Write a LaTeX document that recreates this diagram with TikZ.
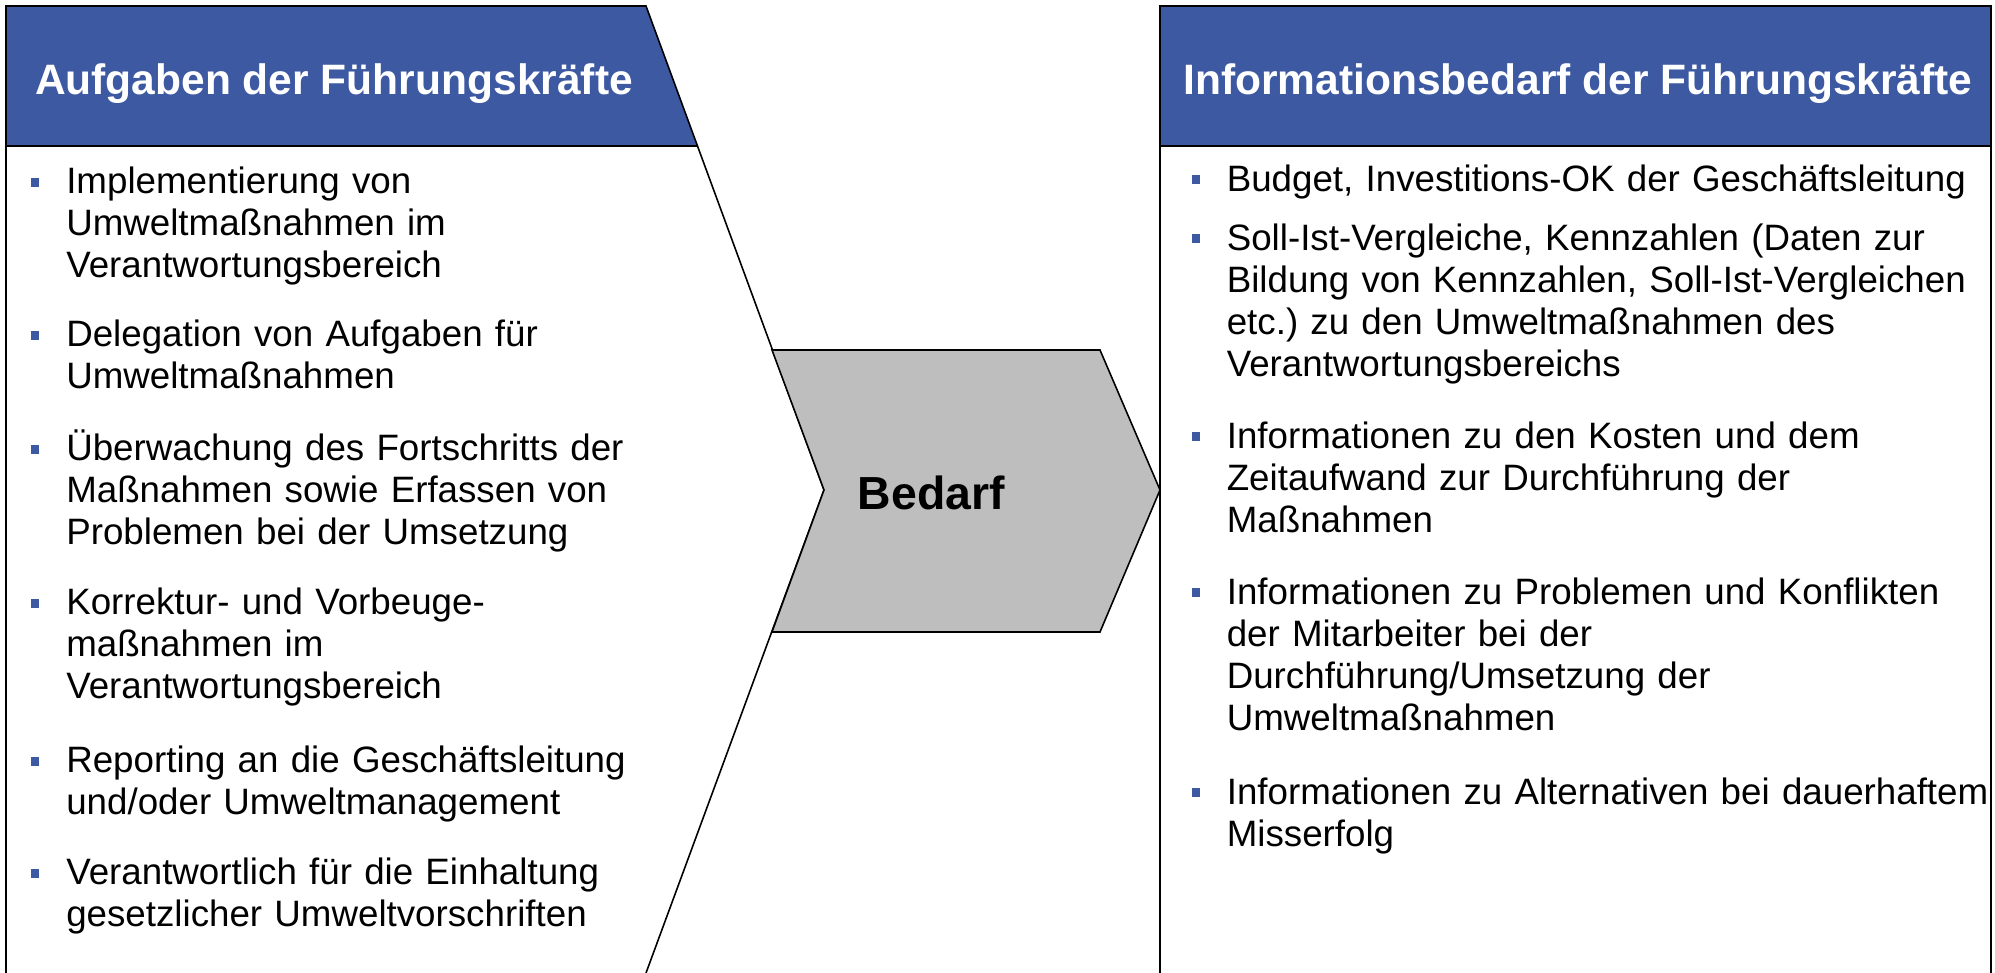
\documentclass[tikz,border=0pt]{standalone}
\usepackage{fontspec}
\setmainfont{Liberation Sans}
\frenchspacing

\definecolor{kopfblau}{RGB}{61,89,162}
\definecolor{pfeilgrau}{RGB}{190,190,190}

\tikzset{
  kopf/.style={font=\fontsize{12.1}{14.5}\selectfont\bfseries, text=white, anchor=base, inner sep=0pt},
  punkt/.style={fill=kopfblau, minimum width=0.8mm, minimum height=0.9mm, inner sep=0pt},
  eintrag/.style={font=\fontsize{10.45}{11.95}\selectfont, text width=85mm, align=left, anchor=base west, inner sep=0pt},
}

\begin{document}
\begin{tikzpicture}[x=0.1mm,y=-0.1mm,line width=0.45pt]
\useasboundingbox (0,0) rectangle (1995,973);

% Kopfleisten
\fill[kopfblau] (6,6) -- (646,6) -- (697,146) -- (6,146) -- cycle;
\fill[kopfblau] (1160,6) rectangle (1991,146);

% Umrisse
\draw (6,973) -- (6,6) -- (646,6) -- (824,490) -- (646,973);
\draw (1160,973) -- (1160,6) -- (1991,6) -- (1991,973);
\draw[line width=0.7pt]
(6,146) -- (697,146)
(1160,146) -- (1991,146);

% Pfeil
\draw[fill=pfeilgrau]
(772,350) -- (1100,350) -- (1160,490) -- (1100,632) -- (772,632) -- (824,490) -- cycle;
\node[font=\fontsize{13.2}{15}\selectfont\bfseries, anchor=base west, inner sep=0pt] (bedarf) at (857,510) {Bedarf};

\node[kopf] (kopfl) at (334,95) {Aufgaben der Führungskräfte};
\node[kopf] (kopfr) at (1578,95) {Informationsbedarf der Führungskräfte};

% linke Spalte
\node[punkt] (pl1) at (34.5,182.5) {};
\node[eintrag] (l1) at (65.5,194) {Implementierung von\\Umweltmaßnahmen im\\Verantwortungsbereich};
\node[punkt] (pl2) at (34.5,335.5) {};
\node[eintrag] (l2) at (65.5,347) {Delegation von Aufgaben für\\Umweltmaßnahmen};
\node[punkt] (pl3) at (34.5,449.5) {};
\node[eintrag] (l3) at (65.5,461) {Überwachung des Fortschritts der\\Maßnahmen sowie Erfassen von\\Problemen bei der Umsetzung};
\node[punkt] (pl4) at (34.5,603.5) {};
\node[eintrag] (l4) at (65.5,615) {Korrektur- und Vorbeuge-\\maßnahmen im\\Verantwortungsbereich};
\node[punkt] (pl5) at (34.5,761.5) {};
\node[eintrag] (l5) at (65.5,773) {Reporting an die Geschäftsleitung\\und/oder Umweltmanagement};
\node[punkt] (pl6) at (34.5,873.5) {};
\node[eintrag] (l6) at (65.5,885) {Verantwortlich für die Einhaltung\\gesetzlicher Umweltvorschriften};

% rechte Spalte
\node[punkt] (pr1) at (1196,179.5) {};
\node[eintrag] (r1) at (1226,191.5) {Budget, Investitions-OK der Geschäftsleitung};
\node[punkt] (pr2) at (1196,239) {};
\node[eintrag] (r2) at (1226,251) {Soll-Ist-Vergleiche, Kennzahlen (Daten zur\\Bildung von Kennzahlen, Soll-Ist-Vergleichen\\etc.) zu den Umweltmaßnahmen des\\Verantwortungsbereichs};
\node[punkt] (pr3) at (1196,436.5) {};
\node[eintrag] (r3) at (1226,448.5) {Informationen zu den Kosten und dem\\Zeitaufwand zur Durchführung der\\Maßnahmen};
\node[punkt] (pr4) at (1196,593) {};
\node[eintrag] (r4) at (1226,605) {Informationen zu Problemen und Konflikten\\der Mitarbeiter bei der\\Durchführung/Umsetzung der\\Umweltmaßnahmen};
\node[punkt] (pr5) at (1196,793) {};
\node[eintrag] (r5) at (1226,805) {Informationen zu Alternativen bei dauerhaftem\\Misserfolg};
\end{tikzpicture}
\end{document}
